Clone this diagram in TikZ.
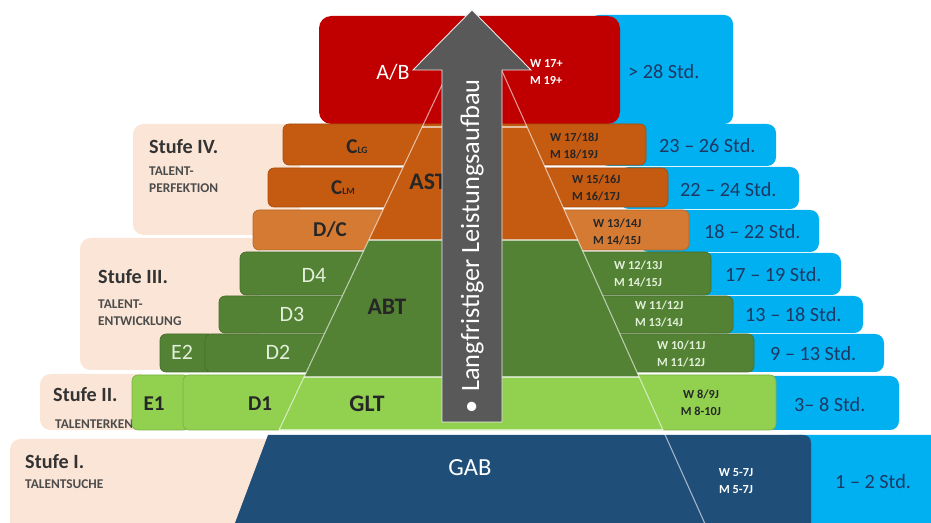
\documentclass[tikz,border=0pt]{standalone}
\usepackage{fontspec}
\setmainfont{Carlito}

\definecolor{cRed}{HTML}{C00000}
\definecolor{cSky}{HTML}{00B0F0}
\definecolor{cOrange}{HTML}{C55A11}
\definecolor{cOrangeLt}{HTML}{D57A32}
\definecolor{cGreen}{HTML}{548235}
\definecolor{cGreenLt}{HTML}{92D050}
\definecolor{cNavy}{HTML}{1F4E79}
\definecolor{cPeach}{HTML}{FBE5D6}
\definecolor{cArrow}{HTML}{595959}
\definecolor{cStd}{HTML}{1F3864}
\definecolor{cPale}{HTML}{E2F0D9}
\definecolor{cInk}{HTML}{262626}

\tikzset{
  panel/.style={fill=cPeach, rounded corners=6pt},
  skybox/.style={fill=cSky, rounded corners=5pt},
  rowbox/.style={fill=#1, draw=#1!85!black, line width=0.4pt, rounded corners=3.5pt},
  pyrline/.style={draw=white, draw opacity=0.6, line width=0.6pt},
  stufe/.style={anchor=west, text=black!80, font=\bfseries\fontsize{11.5}{14}\selectfont},
  stufesub/.style={anchor=west, text=black!70, align=left, font=\bfseries\fontsize{7.6}{9.5}\selectfont},
  lbl/.style={font=\fontsize{12.5}{14}\selectfont},
  biglbl/.style={font=\fontsize{14}{16}\selectfont},
  agetxt/.style={anchor=west, align=left, font=\bfseries\fontsize{7}{9.5}\selectfont},
  stdtxt/.style={anchor=west, text=cStd, font=\fontsize{11.5}{13}\selectfont}
}

\begin{document}
\begin{tikzpicture}[x=0.02cm, y=-0.02cm]
\useasboundingbox (0,0) rectangle (931,523);
\clip (0,0) rectangle (931,523);

% Stufen panels on the left
\fill[panel] (133,124) rectangle (300,235);
\fill[panel] (80,238) rectangle (260,370);
\fill[panel] (40,374) rectangle (150,430);
\fill[panel] (10,439) rectangle (280,545);
\node[stufe] (st4) at (143,147) {Stufe IV.};
\node[stufesub] (st4s) at (143,180) {TALENT-\\PERFEKTION};
\node[stufe] (st3) at (92,277) {Stufe III.};
\node[stufesub] (st3s) at (92,313) {TALENT-\\ENTWICKLUNG};
\node[stufe] (st2) at (47,395) {Stufe II.};
\node[stufesub] (st2s) at (49,424) {TALENTERKENNUNG};
\node[stufe] (st1) at (19,462) {Stufe I.};
\node[stufesub] (st1s) at (19,484) {TALENTSUCHE};

% hours column
\foreach \xa/\ya/\xb/\yb in {590/15/733/124, 600/124/776/166, 620/167/799/209,
  640/210/819/252, 660/253/841/295, 680/296/863/333, 700/334/884/372,
  720/376/899/430, 780/435/960/545}
  \fill[skybox] (\xa,\ya) rectangle (\xb,\yb);

% rows of the staircase
\fill[cRed, rounded corners=7pt] (319,16) rectangle (620,124);
\filldraw[rowbox=cOrange] (283,124) rectangle (646,165);
\filldraw[rowbox=cOrange] (268,168) rectangle (668,207);
\filldraw[rowbox=cOrangeLt] (253,210) rectangle (689,250);
\filldraw[rowbox=cGreen] (240,252) rectangle (711,295);
\filldraw[rowbox=cGreen] (219,296) rectangle (733,333);
\filldraw[rowbox=cGreen] (160,334) rectangle (215,372);
\filldraw[rowbox=cGreen] (205,334) rectangle (754,372);
\filldraw[rowbox=cGreenLt] (132,375) rectangle (190,430);
\filldraw[rowbox=cGreenLt] (183,375) rectangle (776,430);
\fill[cNavy] (235,523) -- (268,435) -- (803,435)
  .. controls (808,435) and (811,438) .. (811,443) -- (811,545) -- (231,545) -- cycle;

% pyramid
\coordinate (apex) at (476,13);
\coordinate (l1) at (422,127);   \coordinate (r1) at (527,127);
\coordinate (l2) at (368.7,240); \coordinate (r2) at (577.7,240);
\coordinate (l3) at (304,377);   \coordinate (r3) at (639.1,377);
\coordinate (l4) at (279,430);   \coordinate (r4) at (662.9,430);
\coordinate (r5) at (704.6,523);
\fill[cOrange] (l1) -- (r1) -- (r2) -- (l2) -- cycle;
\fill[cGreen] (l2) -- (r2) -- (r3) -- (l3) -- cycle;
\fill[cGreenLt] (l3) -- (r3) -- (r4) -- (l4) -- cycle;
\draw[pyrline] (apex) -- (l4);
\draw[pyrline] (apex) -- (r5);
\draw[pyrline] (l1) -- (r1);
\draw[pyrline] (l2) -- (r2);
\draw[pyrline] (l3) -- (r3);
\draw[pyrline] (l4) -- (r4);

% row labels
\node[lbl, text=white] (ab) at (393,72) {A/B};
\node[lbl, text=cInk, font=\bfseries\fontsize{12}{14}\selectfont] (clg) at (357,147) {C{\fontsize{5.5}{7}\selectfont LG}};
\node[lbl, text=cInk, font=\bfseries\fontsize{12}{14}\selectfont] (clm) at (343,188) {C{\fontsize{5.5}{7}\selectfont LM}};
\node[lbl, text=cInk, font=\bfseries\fontsize{12}{14}\selectfont] (dc) at (330,230) {D/C};
\node[biglbl, text=cInk, font=\bfseries\fontsize{13.5}{16}\selectfont] (ast) at (428,182) {AST};
\node[lbl, text=cPale] (d4) at (314,275) {D4};
\node[lbl, text=cPale] (d3) at (292,314) {D3};
\node[lbl, text=cPale] (e2) at (182,352) {E2};
\node[lbl, text=cPale] (d2) at (278,352) {D2};
\node[biglbl, text=cInk, font=\bfseries\fontsize{13.5}{16}\selectfont] (abt) at (387,307) {ABT};
\node[lbl, text=cInk, font=\bfseries\fontsize{12}{14}\selectfont] (e1) at (154,404) {E1};
\node[lbl, text=cInk, font=\bfseries\fontsize{12}{14}\selectfont] (d1) at (260,404) {D1};
\node[biglbl, text=cInk, font=\bfseries\fontsize{13.5}{16}\selectfont] (glt) at (367,404) {GLT};
\node[biglbl, text=white] (gab) at (470,468) {GAB};

% age groups
\foreach \x/\y/\w/\m/\c [count=\i] in {524/72/{W 17+}/{M 19+}/white,
  544/146/{W 17/18J}/{M 18/19J}/cInk, 566/188/{W 15/16J}/{M 16/17J}/cInk,
  587/232/{W 13/14J}/{M 14/15J}/cInk, 608/274/{W 12/13J}/{M 14/15J}/cPale,
  629/314/{W 11/12J}/{M 13/14J}/cPale, 651/354/{W 10/11J}/{M 11/12J}/cPale}
  \node[agetxt, text=\c] (age\i) at (\x,\y) {\w\\\m};
\node[agetxt, anchor=center, align=center, text=cInk] (age8) at (701,403) {W 8/9J\\M 8-10J};
\node[agetxt, anchor=center, align=center, text=white] (age9) at (736,481) {W 5-7J\\M 5-7J};

% training hours
\foreach \x/\y/\t [count=\i] in {622/72/{> 28 Std.}, 653/146/{23 – 26 Std.},
  674/190/{22 – 24 Std.}, 698/232/{18 – 22 Std.}, 719/275/{17 – 19 Std.},
  739/315/{13 – 18 Std.}, 764/354/{9 – 13 Std.}, 788/405/{3– 8 Std.},
  829/482/{1 – 2 Std.}}
  \node[stdtxt] (std\i) at (\x,\y) {\t};

% long-term arrow
\filldraw[fill=cArrow, draw=white!85!gray, line width=0.5pt]
  (442,422) -- (442,70) -- (413,70) -- (472,10) -- (531,70) -- (502,70) -- (502,422) -- cycle;
\node[rotate=90, anchor=west, text=white, font=\fontsize{15}{17}\selectfont] (ltp) at (472,420)
  {•\hspace{5pt}Langfristiger Leistungsaufbau};
\end{tikzpicture}
\end{document}
